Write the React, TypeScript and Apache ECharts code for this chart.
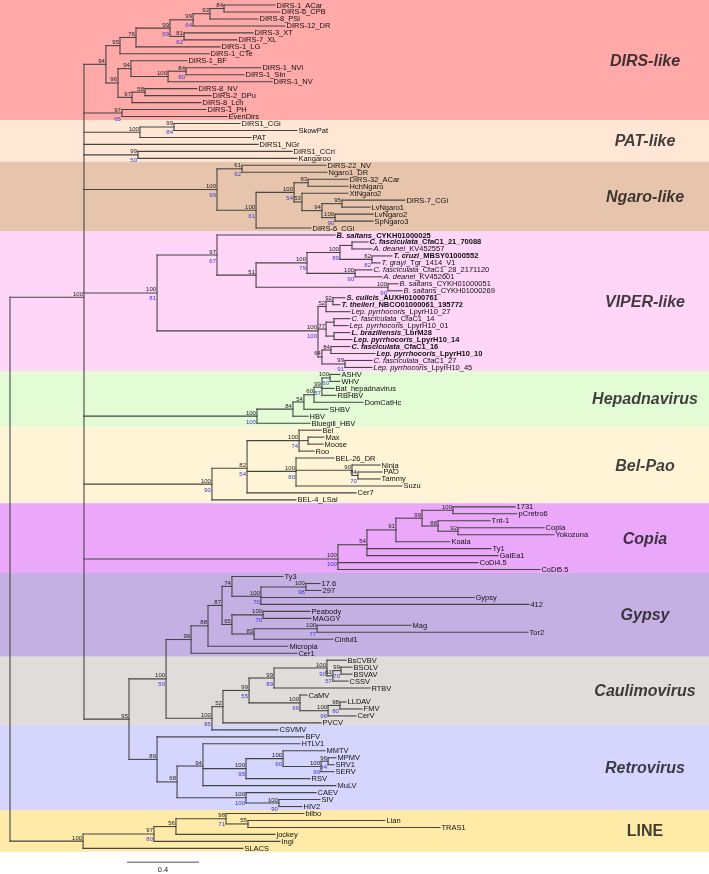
import React, { useEffect, useRef } from "react";
import * as echarts from "echarts";

// Tree in Newick form. Number after ":" = distance from the root (substitutions/site,
// read against the 0.4 scale bar). Internal labels = bootstrap supports (black/blue).
const dirsLike = [
  "((((((DIRS-1_ACar:1.472,DIRS-6_CPB:1.500)84:1.189,DIRS-8_PSi:1.378)93:1.111,DIRS-12_DR:1.528)99/64:1.017,(DIRS-3_XT:1.350,DIRS-7_XL:1.261)81/62:0.967)99/69:0.889,DIRS-1_LG:1.167)76:0.700,DIRS-1_CTe:1.106)95:0.611",
  "((DIRS-1_BF:0.983,((DIRS-1_NVi:1.394,DIRS-1_SIn:1.300)84/80:0.978,DIRS-1_NV:1.456)100:0.878)94:0.672,((DIRS-8_NV:1.039,DIRS-2_DPu:1.117)58:0.750,DIRS-8_Lch:1.061)97:0.678)96:0.600",
  "(DIRS-1_PH:1.089,EvenDirs:1.206)97/65:0.622",
];
const dirsCoreSupport = "94";
const dirsCoreDepth = 0.533;
const patLike = [
  "((DIRS1_CGi:1.278,SkowPat:1.594)99/84:0.911,PAT:1.339)100:0.722",
  "DIRS1_NGr:1.378",
  "(DIRS1_CCri:1.567,Kangaroo:1.594)99/50:0.711",
];
const ngaroLike =
  "((DIRS-22_NV:1.756,Ngaro1_DR:1.761)61/62:1.289,(((DIRS-32_ACar:1.878,HchNgaro:1.878)83:1.656,(XtNgaro2:1.878,((DIRS-7_CGi:2.194,LvNgaro1:2.000)95:1.844,(LvNgaro2:2.017,SpNgaro3:2.017)100/90:1.806)94:1.733)53:1.622)100/54:1.578,DIRS-6_CGi:1.672)100/61:1.367)100/99:1.150";
const viperLike =
  "((B. saltans_CYKH01000025:1.806,((((C. fasciculata_CfaC1_21_70088:1.989,A. deanei_KV452557:2.011):1.900,(T. cruzi_MBSY01000552:2.122,T. grayi_Tgr_1414_V1:2.056)62/82:2.011)100/89:1.833,(C. fasciculata_CfaC1_28_2171120:2.011,A. deanei_KV452601:2.067)100/90:1.917)100/79:1.650,(B. saltans_CYKH01000051:2.156,B. saltans_CYKH01000269:2.178)100/90:2.100)51:1.367)97/67:1.150,(((S. culicis_AUXH01000761:1.861,T. theileri_NBCO01000061_195772:1.833)92:1.794,Lep. pyrrhocoris_LpyrH10_27:1.889)52:1.756,((C. fasciculata_CfaC1_14:1.889,Lep. pyrrhocoris_LpyrH10_01:1.878):1.800,(L. braziliensis_LbrM28:1.889,Lep. pyrrhocoris_LpyrH10_14:1.900):1.800)77:1.756,((C. fasciculata_CfaC1_16:1.889,Lep. pyrrhocoris_LpyrH10_10:2.028)84:1.783,(C. fasciculata_CfaC1_27:2.011,Lep. pyrrhocoris_LpyrH10_45:2.011)99/91:1.861)64:1.733)100/100:1.711)100/81:0.817";
const hepadnavirus =
  "((((((ASHV:1.833,WHV:1.833)100/60:1.778,Bat_hepadnavirus:1.800,RBHBV:1.811)99/57:1.733,DomCatHc:1.961)60:1.689,SHBV:1.767)54:1.633,HBV:1.656)84:1.572,Bluegill_HBV:1.667)100/100:1.372";
const belPao =
  "(((Bel:1.728,(Max:1.744,Moose:1.739):1.656,Roo:1.689)100/74:1.606,(BEL-26_DR:1.800,(Ninja:2.056,(PAO:2.067,Tammy:2.056)84/70:1.933)90:1.900,Suzu:2.178)100/80:1.589,Cer7:1.922)82/54:1.317,BEL-4_LSal:1.589)100/90:1.122";
const copia =
  "(((((1731:2.806,pCretro6:2.817)100:2.461,(Tnt-1:2.667,(Copia:2.967,Yokozuna:3.022)92:2.489)88:2.378)99:2.289,Koala:2.444)91:2.144,Ty1:2.672,GalEa1:2.711)54:1.983,CoDi4.5:2.600,CoDi5.5:2.944)100/100:1.822";
const gypsy =
  "((((Ty3:1.517,((17.6:1.722,297:1.728)100/98:1.644,Gypsy:2.578,412:2.883)100/70:1.394)74:1.233,((Peabody:1.667,MAGGY:1.672)100/70:1.406,((Mag:2.228,Tor2:2.878)100/77:1.706,Cinful1:1.794)83:1.356)65:1.233)87:1.178,Micropia:1.544)88:1.100,Cer1:1.594)99:1.006";
const caulimovirus =
  "(((((BsCVBV:1.867,((BSOLV:1.900,BSVAV:1.900)99/70:1.839,CSSV:1.878)61/57:1.794)100/90:1.761,RTBV:2.000)99/89:1.467,(CaMV:1.650,((LLDAV:1.867,FMV:1.956)98/80:1.833,CerV:1.922)100/96:1.767)100/96:1.611)99/55:1.328,PVCV:1.728)52:1.183,CSVMV:1.489)100/85:1.122";
const retrovirus =
  "(BFV:1.633,((HTLV1:1.611,((MMTV:1.750,((MPMV:1.811,SRV1:1.800)96/94:1.767,SERV:1.800)100/99:1.728)100/90:1.517,RSV:1.667)100/95:1.311,MuLV:1.811)94:1.072,(CAEV:1.700,(SIV:1.722,HIV2:1.622)100/90:1.494)100/100:1.311)68:0.928)89:0.817";
const lineClade =
  "((((bilbo:1.633,(Lian:2.083,TRAS1:2.389)55:1.322)98/71:1.200,jockey:1.472)56:0.922,Ingi:1.500)97/80:0.800,SLACS:1.294)100:0.406";
const gypsyCaulimoSupport = "100/50";
const gypsyCaulimoDepth = 0.867;
const gypsyRetroSupport = "95";
const gypsyRetroDepth = 0.661;
const ltrCoreSupport = "100";
const ltrCoreDepth = 0.411;

const boldLeaves = [
  "B. saltans_CYKH01000025",
  "C. fasciculata_CfaC1_21_70088",
  "T. cruzi_MBSY01000552",
  "S. culicis_AUXH01000761",
  "T. theileri_NBCO01000061_195772",
  "L. braziliensis_LbrM28",
  "Lep. pyrrhocoris_LpyrH10_14",
  "C. fasciculata_CfaC1_16",
  "Lep. pyrrhocoris_LpyrH10_10",
];

const cladeNames = ["DIRS-like", "PAT-like", "Ngaro-like", "VIPER-like", "Hepadnavirus", "Bel-Pao", "Copia", "Gypsy", "Caulimovirus", "Retrovirus", "LINE"];
// Band edges in leaf-row units (row 0 = first leaf at the top)
const cladeBandEdges = [-0.72, 16.5, 22.5, 32.5, 52.5, 60.5, 71.5, 81.5, 93.5, 103.3, 115.5, 121.5];
const cladeColors = ["#FFA9A9", "#FFE6D5", "#E7C5AC", "#FFD5F8", "#E3FCD6", "#FFF5D6", "#EBA8FA", "#C5B0E4", "#E0DCDA", "#D5D5FD", "#FFEAA8"];
const cladeItalic = [true, true, true, true, true, true, true, true, true, true, false];

const scaleBarStart = 0.65;
const scaleBarLength = 0.4;

type TNode = { name: string; depth: number; children: TNode[]; y: number };

function parseNewick(s: string): TNode {
  let i = 0;
  const read = (): TNode => {
    const n: TNode = { name: "", depth: 0, children: [], y: 0 };
    if (s[i] === "(") {
      i++;
      n.children.push(read());
      while (s[i] === ",") {
        i++;
        n.children.push(read());
      }
      i++;
    }
    let lab = "";
    while (i < s.length && "(),:".indexOf(s[i]) < 0) lab += s[i++];
    n.name = lab.trim();
    if (s[i] === ":") {
      i++;
      let num = "";
      while (i < s.length && "(),".indexOf(s[i]) < 0) num += s[i++];
      n.depth = parseFloat(num);
    }
    return n;
  };
  return read();
}

const FONT = "'Liberation Sans', Arial, Helvetica, sans-serif";
const INK = "#111111";
const LEAF_SIZE = 7.5;

export default function App() {
  const ref = useRef<HTMLDivElement>(null);

  useEffect(() => {
    document.body.style.margin = "0";
    if (!ref.current) return;
    const chart = echarts.init(ref.current, undefined, { renderer: "svg" });

    const dirsCore = "(" + dirsLike[0] + "," + dirsLike[1] + ")" + dirsCoreSupport + ":" + dirsCoreDepth;
    const lower = "((" + gypsy + "," + caulimovirus + ")" + gypsyCaulimoSupport + ":" + gypsyCaulimoDepth + "," + retrovirus + ")" + gypsyRetroSupport + ":" + gypsyRetroDepth;
    const core =
      "(" +
      [dirsCore, dirsLike[2], ...patLike, ngaroLike, viperLike, hepadnavirus, belPao, copia, lower].join(",") +
      ")" + ltrCoreSupport + ":" + ltrCoreDepth;
    const tree = parseNewick("(" + core + "," + lineClade + "):0");

    const leaves: TNode[] = [];
    const internals: TNode[] = [];
    const place = (n: TNode) => {
      if (!n.children.length) {
        n.y = leaves.length;
        leaves.push(n);
        return;
      }
      n.children.forEach(place);
      n.y = n.children.reduce((a, c) => a + c.y, 0) / n.children.length;
      internals.push(n);
    };
    place(tree);

    const segs: number[][] = [];
    internals.forEach((n) => {
      const ys = n.children.map((c) => c.y);
      segs.push([n.depth, Math.min(...ys), n.depth, Math.max(...ys)]);
      n.children.forEach((c) => segs.push([n.depth, c.y, c.depth, c.y]));
    });

    const nLeaves = leaves.length;
    const yMin = -0.72;
    const yMax = 124.68;
    const bands = cladeNames.map((_, k) => [cladeBandEdges[k], cladeBandEdges[k + 1], k]);

    const supports: any[] = [];
    internals.forEach((n) => {
      if (!n.name) return;
      const parts = n.name.split("/");
      supports.push([n.depth, n.y, 0, parts[0]]);
      if (parts[1]) supports.push([n.depth, n.y, 1, parts[1]]);
    });

    const richName = (name: string) => {
      const bold = boldLeaves.indexOf(name) >= 0;
      const k = name.indexOf("_");
      if (name.indexOf(". ") > 0 && k > 0) {
        return "{" + (bold ? "sbi" : "si") + "|" + name.slice(0, k) + "}{" + (bold ? "sb" : "sn") + "|" + name.slice(k) + "}";
      }
      return "{sn|" + name + "}";
    };
    const base = { fill: INK, fontSize: LEAF_SIZE, fontFamily: FONT };
    const richStyles = {
      sn: { ...base },
      si: { ...base, fontStyle: "italic" },
      sb: { ...base, fontWeight: "bold" },
      sbi: { ...base, fontWeight: "bold", fontStyle: "italic" },
    };

    const scaleY = nLeaves + 1.0;

    chart.setOption({
      animation: false,
      grid: { left: 0, right: 0, top: 0, bottom: 0 },
      xAxis: { type: "value", min: -10 / 180, max: 699 / 180, show: false },
      yAxis: { type: "value", min: yMin, max: yMax, inverse: true, show: false },
      series: [
        {
          type: "custom",
          silent: true,
          z: 0,
          clip: false,
          data: bands,
          renderItem: (params: any, api: any) => {
            const a = api.coord([0, api.value(0)])[1];
            const b = api.coord([0, api.value(1)])[1];
            const cs = params.coordSys;
            return {
              type: "rect",
              shape: { x: cs.x, y: a, width: cs.width, height: b - a },
              style: { fill: cladeColors[api.value(2)] },
            };
          },
        },
        {
          type: "custom",
          silent: true,
          z: 2,
          clip: false,
          data: segs,
          renderItem: (params: any, api: any) => {
            const p1 = api.coord([api.value(0), api.value(1)]);
            const p2 = api.coord([api.value(2), api.value(3)]);
            return {
              type: "line",
              shape: { x1: p1[0], y1: p1[1], x2: p2[0], y2: p2[1] },
              style: { stroke: "#454545", lineWidth: 1.1, lineCap: "square" },
            };
          },
        },
        {
          type: "custom",
          silent: true,
          z: 2,
          clip: false,
          data: [[scaleBarStart, scaleY, scaleBarStart + scaleBarLength, scaleY]],
          renderItem: (params: any, api: any) => {
            const p1 = api.coord([api.value(0), api.value(1)]);
            const p2 = api.coord([api.value(2), api.value(3)]);
            return {
              type: "group",
              children: [
                {
                  type: "line",
                  shape: { x1: p1[0], y1: p1[1], x2: p2[0], y2: p2[1] },
                  style: { stroke: "#8a8a8a", lineWidth: 1.5 },
                },
                {
                  type: "text",
                  x: (p1[0] + p2[0]) / 2,
                  y: p1[1] + 3,
                  style: { text: String(scaleBarLength), fill: "#222", fontSize: 7.5, fontFamily: FONT, align: "center", verticalAlign: "top" },
                },
              ],
            };
          },
        },
        {
          type: "custom",
          silent: true,
          z: 3,
          clip: false,
          data: leaves.map((l, k) => [l.depth, l.y, k]),
          renderItem: (params: any, api: any) => {
            const p = api.coord([api.value(0), api.value(1)]);
            const name = leaves[api.value(2)].name;
            return {
              type: "text",
              x: p[0] + 1.5,
              y: p[1],
              style: {
                text: richName(name),
                rich: richStyles,
                fill: INK,
                fontSize: LEAF_SIZE,
                fontFamily: FONT,
                align: "left",
                verticalAlign: "middle",
              },
            };
          },
        },
        {
          type: "custom",
          silent: true,
          z: 3,
          clip: false,
          data: supports.map((s, k) => [s[0], s[1], s[2], k]),
          renderItem: (params: any, api: any) => {
            const p = api.coord([api.value(0), api.value(1)]);
            const below = api.value(2) === 1;
            const txt = supports[api.value(3)][3];
            return {
              type: "text",
              x: p[0] - 1,
              y: below ? p[1] + 2.5 : p[1] - 0.5,
              style: {
                text: txt,
                fill: below ? "#3a3ad0" : "#222222",
                fontSize: 6,
                fontFamily: FONT,
                align: "right",
                verticalAlign: below ? "top" : "bottom",
              },
            };
          },
        },
        {
          type: "scatter",
          silent: true,
          z: 3,
          symbolSize: 1,
          itemStyle: { color: "rgba(0,0,0,0)" },
          data: bands.map((b, k) => ({
            name: cladeNames[k],
            value: [(645 - 10) / 180, (Math.max(b[0], -0.5) + b[1]) / 2],
            label: { fontStyle: cladeItalic[k] ? "italic" : "normal" },
          })),
          label: {
            show: true,
            position: "inside",
            formatter: "{b}",
            fontSize: 16,
            fontWeight: "bold",
            fontFamily: FONT,
            color: "#111",
          },
        },
      ],
    });

    return () => chart.dispose();
  }, []);

  return <div ref={ref} style={{ width: 709, height: 874, transform: "translateZ(0)" }} />;
}
